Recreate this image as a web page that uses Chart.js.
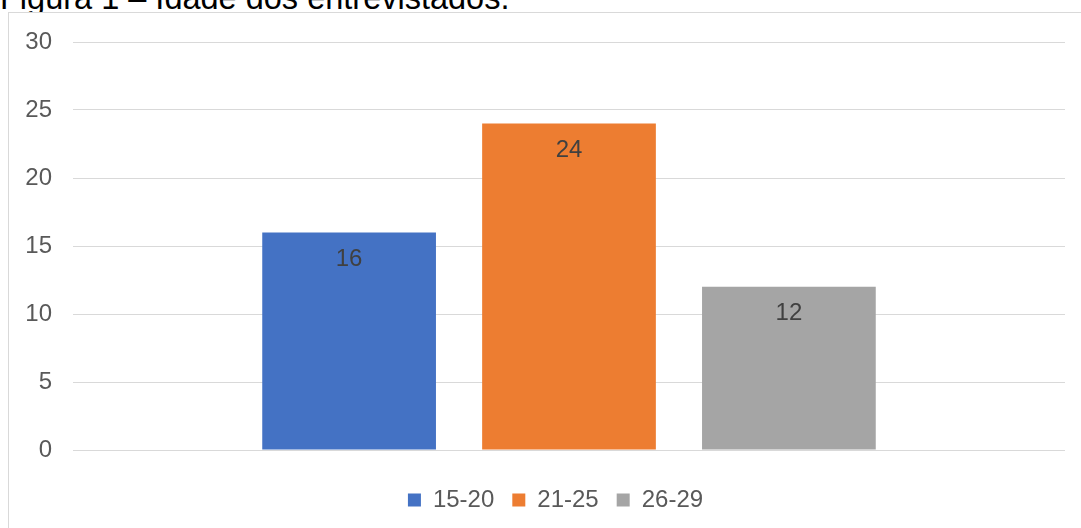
<!DOCTYPE html>
<html lang="pt">
<head>
    <meta charset="UTF-8">
    <title>Idade dos entrevistados</title>
    <script src="https://cdn.jsdelivr.net/npm/chart.js"></script>
    <style>
        body { margin: 0; background: #fff; overflow: hidden; width: 1081px; height: 528px; position: relative; }
        #titulo {
            position: absolute; left: 0; top: -18px;
            font-family: "Liberation Sans", Arial, sans-serif; font-size: 32.5px; line-height: 32.5px;
            color: #000; white-space: nowrap;
        }
        #caixa {
            position: absolute; left: 8px; top: 12px; width: 1100px; height: 600px;
            border: 1px solid #d9d9d9; background: #fff;
        }
        #area { position: absolute; left: 0; top: 0; width: 1093px; height: 515px; }
    </style>
</head>
<body>
<div id="titulo">Figura 1 – Idade dos entrevistados.</div>
<div id="caixa">
    <div id="area"><canvas id="grafico"></canvas></div>
</div>
<script>
    // faixas etárias e número de entrevistados
    const faixas = ['15-20', '21-25', '26-29'];
    const quantidades = [16, 24, 12];
    const cores = ['#4472C4', '#ED7D31', '#A5A5A5'];
    const ticksY = [0, 5, 10, 15, 20, 25, 30];

    const fonte = { family: '"Liberation Sans", Arial, sans-serif', size: 24 };

    // escreve o valor dentro de cada barra, perto do topo
    const rotulos = {
        id: 'rotulos',
        afterDatasetsDraw(chart) {
            const ctx = chart.ctx;
            ctx.save();
            ctx.font = '24px "Liberation Sans", Arial, sans-serif';
            ctx.fillStyle = '#404040';
            ctx.textAlign = 'center';
            ctx.textBaseline = 'middle';
            chart.data.datasets.forEach((ds, i) => {
                const meta = chart.getDatasetMeta(i);
                meta.data.forEach((bar, j) => {
                    ctx.fillText(ds.data[j], bar.x, bar.y + 27);
                });
            });
            ctx.restore();
        }
    };

    // a legenda fica centrada na largura toda do canvas, não só na área útil
    const centraLegenda = {
        id: 'centraLegenda',
        afterLayout(chart) {
            const lg = chart.legend;
            if (!lg) return;
            const dx = chart.width / 2 - (lg.left + lg.right) / 2;
            lg.left += dx;
            lg.right += dx;
        }
    };

    const datasets = [];
    for (let i = 0; i < faixas.length; i++) {
        datasets.push({
            label: faixas[i],
            data: [quantidades[i]],
            backgroundColor: cores[i],
            borderWidth: 0,
            categoryPercentage: 0.665,
            barPercentage: 0.79
        });
    }

    new Chart(document.getElementById('grafico'), {
        type: 'bar',
        data: { labels: [''], datasets: datasets },
        plugins: [rotulos, centraLegenda],
        options: {
            responsive: true,
            maintainAspectRatio: false,
            animation: false,
            layout: { padding: { top: 29, right: 37, bottom: 6, left: 0 } },
            plugins: {
                tooltip: { enabled: false },
                legend: {
                    position: 'bottom',
                    labels: {
                        boxWidth: 13,
                        boxHeight: 13,
                        padding: 18,
                        color: '#595959',
                        font: fonte
                    }
                }
            },
            scales: {
                x: {
                    afterFit(scale) { scale.height = 20; },
                    ticks: { display: false },
                    grid: { display: false },
                    border: { display: false }
                },
                y: {
                    min: 0,
                    max: 30,
                    afterFit(scale) {
                        scale.width = 64;
                        scale.paddingTop = 0;
                        scale.paddingBottom = 0;
                    },
                    afterBuildTicks(scale) { scale.ticks = ticksY.map(v => ({ value: v })); },
                    border: { display: false },
                    grid: { color: '#d9d9d9', lineWidth: 1, drawTicks: false },
                    ticks: { color: '#595959', font: fonte, padding: 21 }
                }
            }
        }
    });
</script>
</body>
</html>
